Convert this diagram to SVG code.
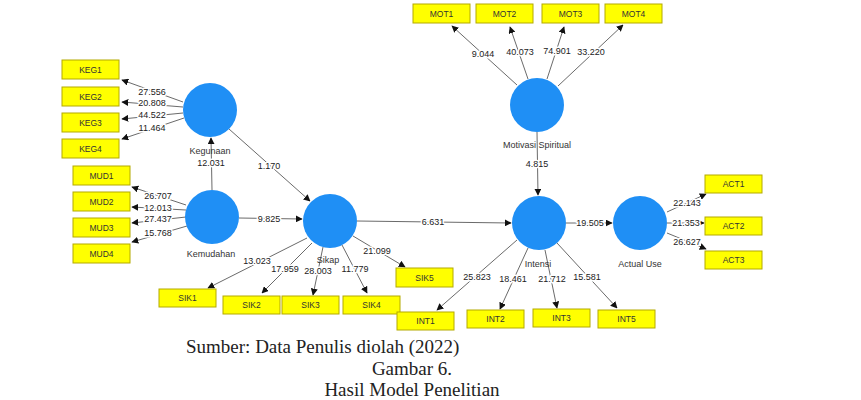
<svg xmlns="http://www.w3.org/2000/svg" width="861" height="400" viewBox="0 0 861 400">
<defs>
<marker id="ah" viewBox="0 0 10 10" refX="9" refY="5" markerWidth="7" markerHeight="7" markerUnits="userSpaceOnUse" orient="auto">
<path d="M0,0 L10,5 L0,10 z" fill="#111"/>
</marker>
</defs>
<style>
.lv{fill:#1f8ff5}
.ind{fill:#ffff00;stroke:#b4aa00;stroke-width:1}
.t{font-family:"Liberation Sans",Arial,sans-serif;font-size:8.5px;fill:#333;text-anchor:middle}
.ln{font-family:"Liberation Sans",Arial,sans-serif;font-size:9px;fill:#333;text-anchor:middle}
.c{stroke:#444;stroke-width:0.8;fill:none;marker-end:url(#ah)}
.cl{font-family:"Liberation Sans",Arial,sans-serif;font-size:9px;fill:#222;text-anchor:middle;stroke:#fff;stroke-width:3;paint-order:stroke;stroke-linejoin:round}
.cap{font-family:"Liberation Serif","Times New Roman",serif;font-size:19px;fill:#222}
</style>
<rect width="861" height="400" fill="#fff"/>
<g id="connectors">
<line class="c" x1="212" y1="190" x2="211" y2="138"/>
<line class="c" x1="229" y1="129" x2="310" y2="201"/>
<line class="c" x1="239" y1="218" x2="302" y2="219"/>
<line class="c" x1="357" y1="221" x2="511" y2="223"/>
<line class="c" x1="537" y1="132" x2="538" y2="195"/>
<line class="c" x1="566" y1="223" x2="612" y2="223"/>
<line class="c" x1="183" y1="102" x2="122" y2="80"/>
<line class="c" x1="183" y1="107" x2="122" y2="102"/>
<line class="c" x1="183" y1="113" x2="122" y2="119"/>
<line class="c" x1="184" y1="118" x2="122" y2="139"/>
<line class="c" x1="186" y1="205" x2="132" y2="187"/>
<line class="c" x1="186" y1="210" x2="132" y2="207"/>
<line class="c" x1="186" y1="217" x2="132" y2="223"/>
<line class="c" x1="187" y1="226" x2="132" y2="242"/>
<line class="c" x1="517" y1="85" x2="452" y2="26"/>
<line class="c" x1="528" y1="79" x2="510" y2="27"/>
<line class="c" x1="547" y1="79" x2="564" y2="27"/>
<line class="c" x1="558" y1="86" x2="623" y2="25"/>
<line class="c" x1="307" y1="238" x2="208" y2="288"/>
<line class="c" x1="312" y1="243" x2="262" y2="293"/>
<line class="c" x1="323" y1="247" x2="313" y2="295"/>
<line class="c" x1="342" y1="245" x2="367" y2="293"/>
<line class="c" x1="353" y1="236" x2="405" y2="267"/>
<line class="c" x1="517" y1="240" x2="437" y2="310"/>
<line class="c" x1="528" y1="248" x2="500" y2="309"/>
<line class="c" x1="545" y1="250" x2="557" y2="308"/>
<line class="c" x1="557" y1="243" x2="617" y2="308"/>
<line class="c" x1="667" y1="212" x2="706" y2="194"/>
<line class="c" x1="667" y1="223" x2="704" y2="223"/>
<line class="c" x1="667" y1="233" x2="706" y2="249"/>
<text class="cl" x="211" y="166">12.031</text>
<text class="cl" x="269" y="169">1.170</text>
<text class="cl" x="269" y="222">9.825</text>
<text class="cl" x="433" y="225">6.631</text>
<text class="cl" x="537" y="167">4.815</text>
<text class="cl" x="590" y="226">19.505</text>
<text class="cl" x="152" y="95">27.556</text>
<text class="cl" x="152" y="106">20.808</text>
<text class="cl" x="152" y="118">44.522</text>
<text class="cl" x="152" y="131">11.464</text>
<text class="cl" x="158" y="199">26.707</text>
<text class="cl" x="158" y="211">12.013</text>
<text class="cl" x="158" y="222">27.437</text>
<text class="cl" x="158" y="236">15.768</text>
<text class="cl" x="483" y="57">9.044</text>
<text class="cl" x="520" y="55">40.073</text>
<text class="cl" x="557" y="54">74.901</text>
<text class="cl" x="591" y="55">33.220</text>
<text class="cl" x="257" y="264">13.023</text>
<text class="cl" x="285" y="272">17.959</text>
<text class="cl" x="318" y="274">28.003</text>
<text class="cl" x="355" y="272">11.779</text>
<text class="cl" x="377" y="254">21.099</text>
<text class="cl" x="477" y="280">25.823</text>
<text class="cl" x="513" y="282">18.461</text>
<text class="cl" x="552" y="282">21.712</text>
<text class="cl" x="587" y="280">15.581</text>
<text class="cl" x="687" y="206">22.143</text>
<text class="cl" x="686" y="226">21.353</text>
<text class="cl" x="687" y="245">26.627</text>
</g>
<g id="kegunaan"><circle class="lv" cx="210" cy="110" r="27"/><text class="ln" x="210" y="154">Kegunaan</text></g>
<g id="kemudahan"><circle class="lv" cx="212" cy="217" r="27"/><text class="ln" x="211" y="257">Kemudahan</text></g>
<g id="sikap"><circle class="lv" cx="330" cy="221" r="27"/><text class="ln" x="328" y="263">Sikap</text></g>
<g id="motivasi"><circle class="lv" cx="537" cy="105" r="27"/><text class="ln" x="537" y="148">Motivasi Spiritual</text></g>
<g id="intensi"><circle class="lv" cx="539" cy="223" r="27"/><text class="ln" x="538" y="267">Intensi</text></g>
<g id="actualuse"><circle class="lv" cx="640" cy="223" r="27"/><text class="ln" x="640" y="267">Actual Use</text></g>
<g id="KEG1"><rect class="ind" x="62" y="60" width="57" height="19"/><text class="t" x="90.5" y="72.5">KEG1</text></g>
<g id="KEG2"><rect class="ind" x="62" y="87" width="57" height="19"/><text class="t" x="90.5" y="99.5">KEG2</text></g>
<g id="KEG3"><rect class="ind" x="62" y="113" width="57" height="19"/><text class="t" x="90.5" y="125.5">KEG3</text></g>
<g id="KEG4"><rect class="ind" x="62" y="139" width="57" height="19"/><text class="t" x="90.5" y="151.5">KEG4</text></g>
<g id="MUD1"><rect class="ind" x="73" y="166" width="57" height="19"/><text class="t" x="101.5" y="178.5">MUD1</text></g>
<g id="MUD2"><rect class="ind" x="73" y="192" width="57" height="19"/><text class="t" x="101.5" y="204.5">MUD2</text></g>
<g id="MUD3"><rect class="ind" x="73" y="218" width="57" height="19"/><text class="t" x="101.5" y="230.5">MUD3</text></g>
<g id="MUD4"><rect class="ind" x="73" y="244" width="57" height="19"/><text class="t" x="101.5" y="256.5">MUD4</text></g>
<g id="MOT1"><rect class="ind" x="413" y="4" width="57" height="19"/><text class="t" x="441.5" y="16.5">MOT1</text></g>
<g id="MOT2"><rect class="ind" x="476" y="4" width="57" height="19"/><text class="t" x="504.5" y="16.5">MOT2</text></g>
<g id="MOT3"><rect class="ind" x="542" y="4" width="57" height="19"/><text class="t" x="570.5" y="16.5">MOT3</text></g>
<g id="MOT4"><rect class="ind" x="605" y="4" width="57" height="19"/><text class="t" x="633.5" y="16.5">MOT4</text></g>
<g id="SIK1"><rect class="ind" x="159" y="289" width="57" height="18"/><text class="t" x="187.5" y="301">SIK1</text></g>
<g id="SIK2"><rect class="ind" x="223" y="296" width="57" height="18"/><text class="t" x="251.5" y="308">SIK2</text></g>
<g id="SIK3"><rect class="ind" x="282" y="296" width="57" height="18"/><text class="t" x="310.5" y="308">SIK3</text></g>
<g id="SIK4"><rect class="ind" x="343" y="296" width="57" height="18"/><text class="t" x="371.5" y="308">SIK4</text></g>
<g id="SIK5"><rect class="ind" x="396" y="268" width="57" height="19"/><text class="t" x="424.5" y="280.5">SIK5</text></g>
<g id="INT1"><rect class="ind" x="397" y="312" width="57" height="18"/><text class="t" x="425.5" y="324">INT1</text></g>
<g id="INT2"><rect class="ind" x="467" y="310" width="57" height="18"/><text class="t" x="495.5" y="322">INT2</text></g>
<g id="INT3"><rect class="ind" x="533" y="309" width="57" height="18"/><text class="t" x="561.5" y="321">INT3</text></g>
<g id="INT5"><rect class="ind" x="598" y="310" width="57" height="18"/><text class="t" x="626.5" y="322">INT5</text></g>
<g id="ACT1"><rect class="ind" x="705" y="175" width="57" height="18"/><text class="t" x="733.5" y="187">ACT1</text></g>
<g id="ACT2"><rect class="ind" x="705" y="217" width="57" height="18"/><text class="t" x="733.5" y="229">ACT2</text></g>
<g id="ACT3"><rect class="ind" x="705" y="251" width="57" height="18"/><text class="t" x="733.5" y="263">ACT3</text></g>
<g id="caption">
<text class="cap" x="186" y="353">Sumber: Data Penulis diolah (2022)</text>
<text class="cap" x="412" y="375" text-anchor="middle">Gambar 6.</text>
<text class="cap" x="412" y="396" text-anchor="middle">Hasil Model Penelitian</text>
</g>
</svg>
